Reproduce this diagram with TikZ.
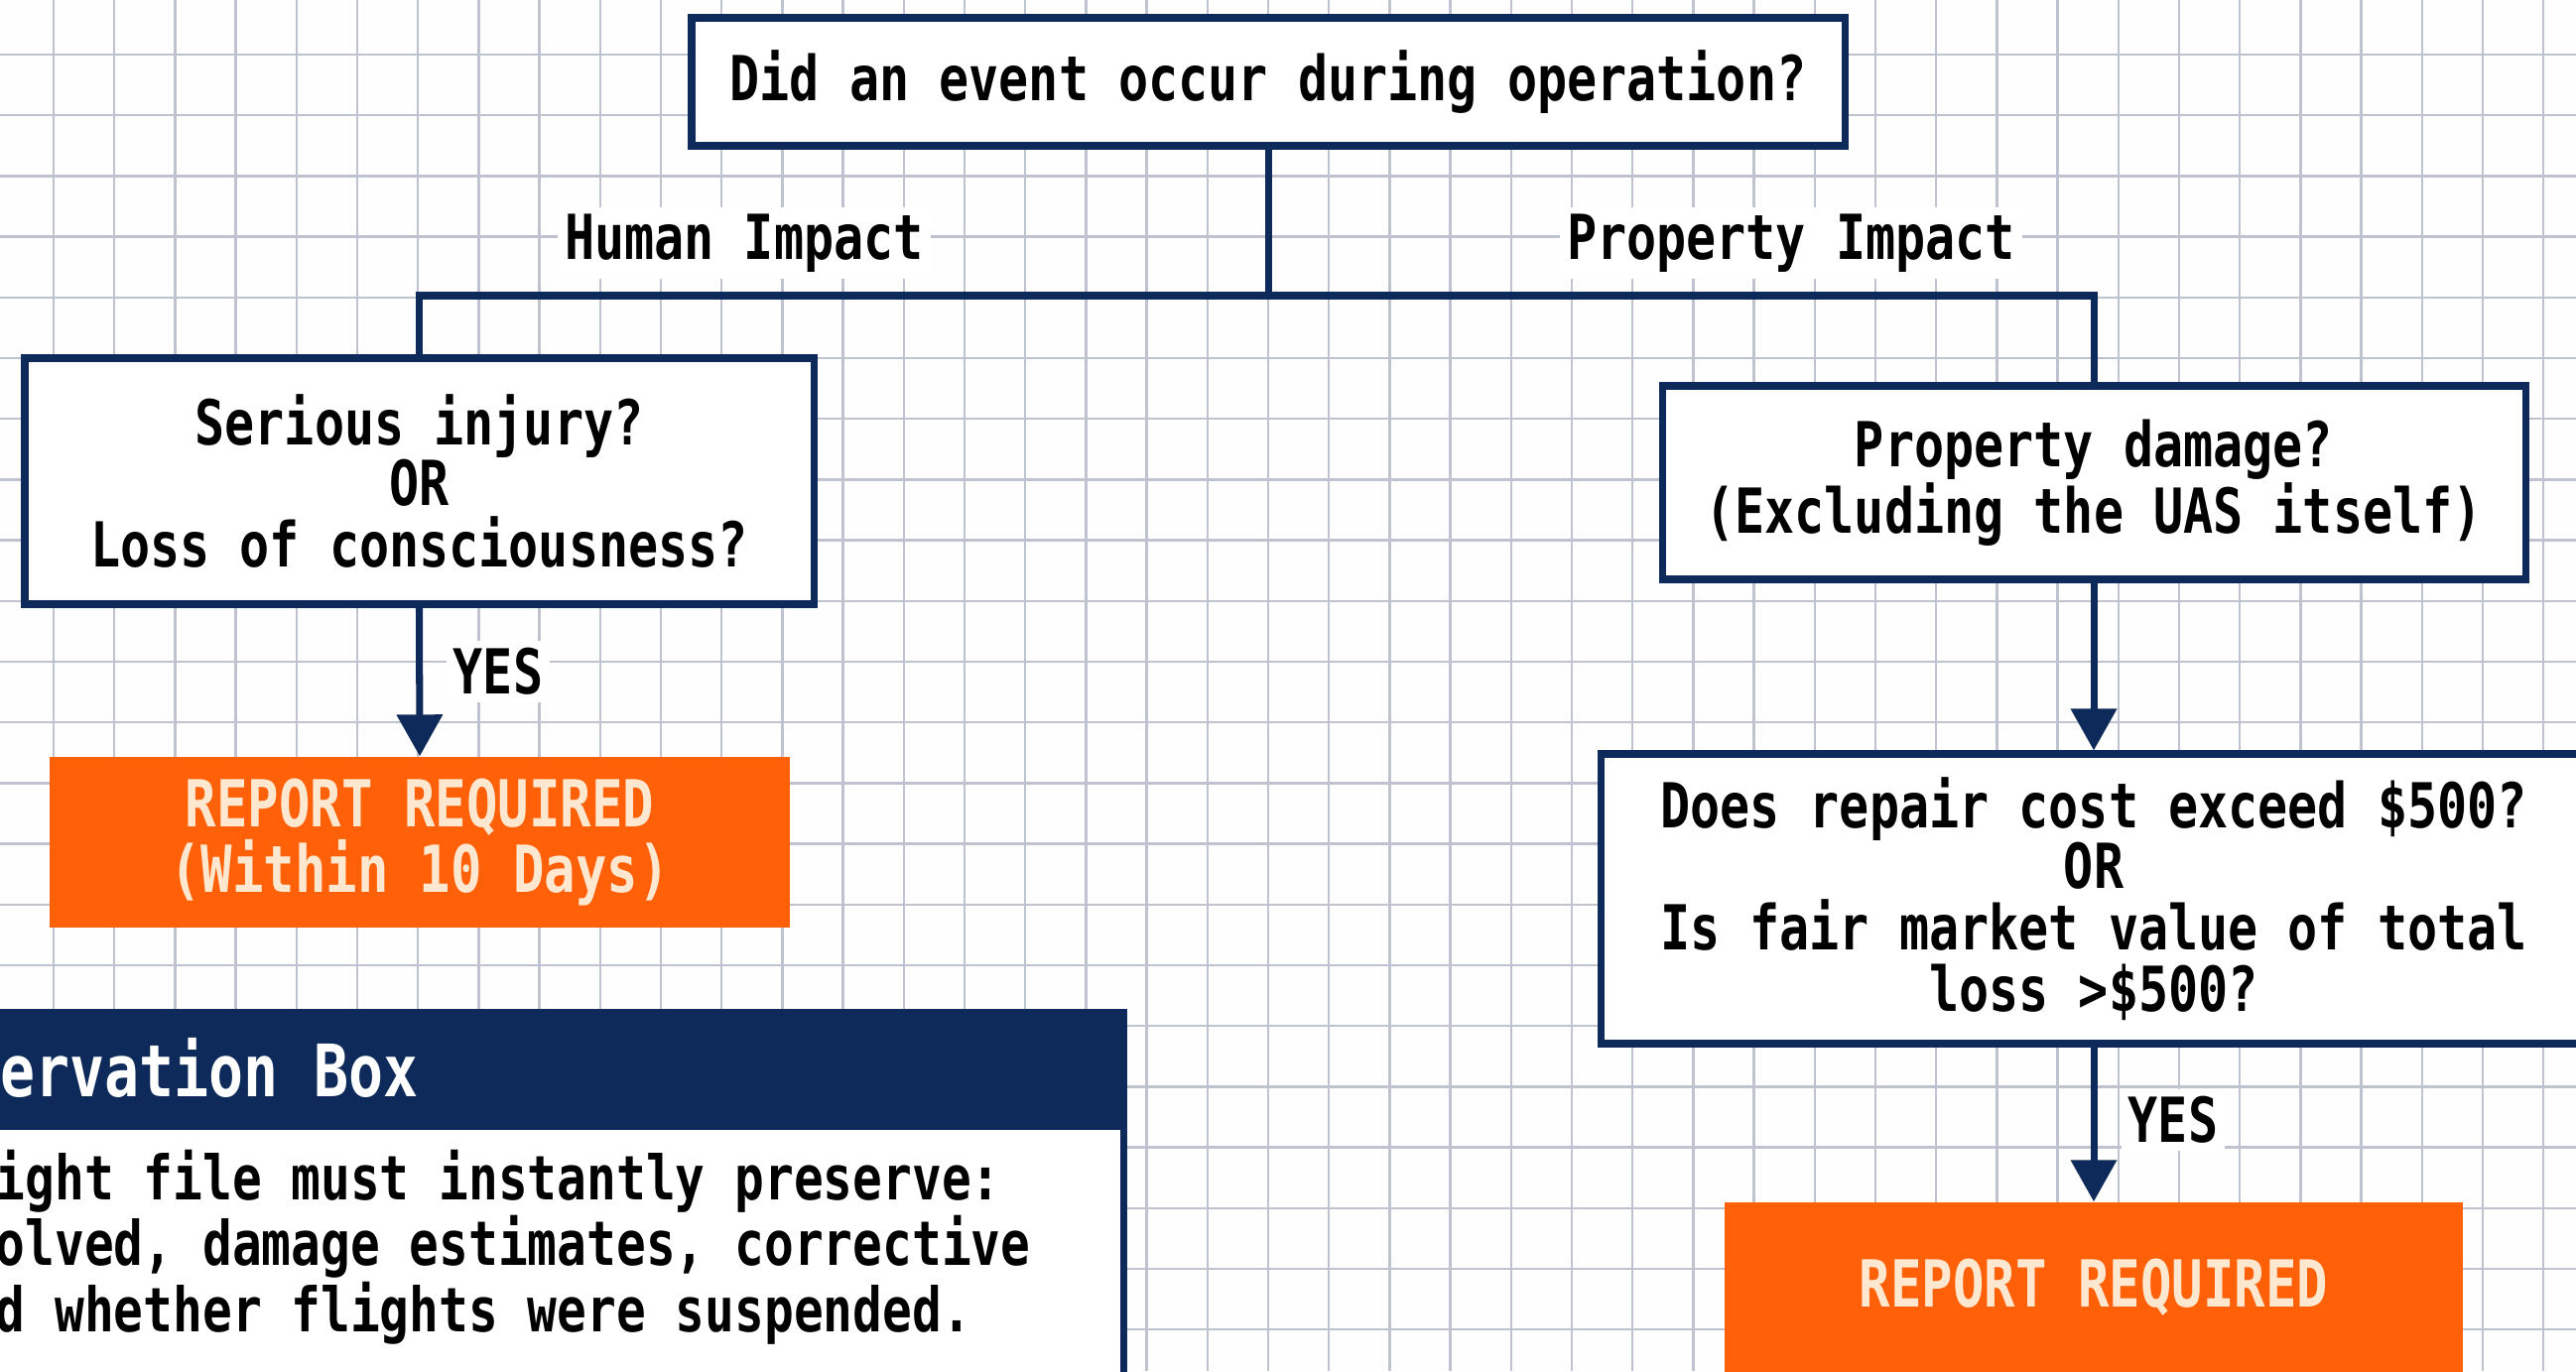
\documentclass[tikz,border=0pt]{standalone}
\usepackage{fontspec}
\usepackage{tikz}
\usepackage{xcolor}
\usetikzlibrary{positioning, calc, arrows.meta}
\newfontfamily\flowfont[FakeStretch=0.8]{DejaVu Sans Mono}
\definecolor{navy}{HTML}{0E2A5A}
\definecolor{reportorange}{HTML}{FF6008}
\definecolor{cream}{HTML}{FFE8CF}
\definecolor{gridblue}{HTML}{BEC3CF}

\begin{document}
\begin{tikzpicture}[
    qbox/.style={draw=navy, line width=2pt, fill=white, align=center, inner sep=0pt, font=\flowfont\bfseries\fontsize{17.8}{17.6}\selectfont},
    report/.style={fill=reportorange, text=cream, align=center, inner sep=0pt, font=\flowfont\bfseries\fontsize{18.6}{17.6}\selectfont},
    branch/.style={fill=white, inner sep=2pt, font=\flowfont\bfseries\fontsize{17.8}{17.6}\selectfont},
    link/.style={navy, line width=2pt},
    yesarrow/.style={link, -{Triangle[width=0.45cm, length=0.42cm]}},
    gridline/.style={gridblue, line width=0.65pt}
]
    \useasboundingbox (0,0) rectangle (25.96,13.82);
    \clip (0,0) rectangle (25.96,13.82);
    \fill[white!98!gridblue] (0,0) rectangle (25.96,13.82);
    \foreach \i in {0,...,41} \draw[gridline] ({0.54+0.612*\i},0) -- ++(0,13.82);
    \foreach \j in {0,...,21} \draw[gridline] (0,{13.27-0.612*\j}) -- ++(25.96,0);

    \node[qbox, minimum width=11.62cm, minimum height=1.29cm] (event) at (12.78,12.995) {Did an event occur during operation?};
    \coordinate (split) at (12.78,10.84);
    \node[branch] (human) at (7.50,11.37) {Human Impact};
    \node[branch] (property) at (18.05,11.37) {Property Impact};
    \node[qbox, minimum width=7.95cm, minimum height=2.48cm] (injury) at (4.225,8.97) {Serious injury?\\OR\\Loss of consciousness?};
    \node[qbox, minimum width=8.70cm, minimum height=1.95cm] (damage) at (21.10,8.955) {Property damage?\\(Excluding the UAS itself)};
    \node[report, minimum width=7.46cm, minimum height=1.72cm] (report1) at (4.23,5.33) {\raisebox{-0.5ex}{REPORT REQUIRED}\\(Within 10 Days)};
    \node[qbox, minimum width=9.94cm, minimum height=2.92cm] (cost) at (21.10,4.76) {Does repair cost exceed \$500?\\OR\\Is fair market value of total\\loss >\$500?};
    \node[report, minimum width=7.44cm, minimum height=1.72cm] (report2) at (21.10,0.84) {REPORT REQUIRED};
    \node[branch] (yes1) at (5.02,7.05) {YES};
    \node[branch] (yes2) at (21.90,2.53) {YES};

    \node[fill=white, draw=navy, line width=2pt, minimum width=11.59cm, minimum height=2.8cm, anchor=north west, inner sep=0pt] (obsbody) at (-0.3,2.50) {};
    \node[fill=navy, draw=navy, line width=2pt, minimum width=11.59cm, minimum height=1.15cm, anchor=north west, inner sep=0pt] (obshead) at (-0.3,3.65) {};
    \node[anchor=west, inner sep=0pt, text=white, font=\flowfont\bfseries\fontsize{20.7}{20}\selectfont] (obstitle) at (0.0,3.06) {ervation Box};
    \node[anchor=west, inner sep=0pt, align=left, font=\flowfont\bfseries\fontsize{17.6}{17.6}\selectfont] (obstext) at (-0.05,1.25) {ight file must instantly preserve:\\olved, damage estimates, corrective\\d whether flights were suspended.};

    \draw[link] (event.south) -- (split);
    \draw[link] (injury.north) |- (split) -| (damage.north);
    \draw[yesarrow] (injury.south) -- (report1.north);
    \draw[yesarrow] (damage.south) -- (cost.north);
    \draw[yesarrow] (cost.south) -- (report2.north);
\end{tikzpicture}
\end{document}
